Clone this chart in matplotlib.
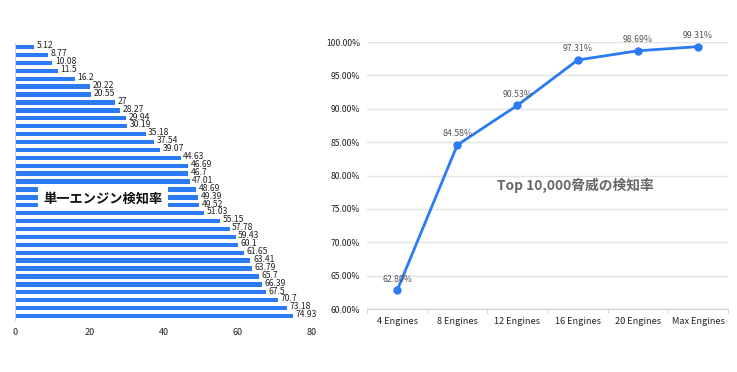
import numpy as np
import matplotlib
matplotlib.use("Agg")
import matplotlib.pyplot as plt
from matplotlib.ticker import FuncFormatter

plt.rcParams['font.family'] = ['Noto Sans CJK JP', 'DejaVu Sans']

# 左: 単一エンジン検知率 (上から順)
single_rates = [5.12, 8.77, 10.08, 11.5, 16.2, 20.22, 20.55, 27, 28.27, 29.94,
                30.19, 35.18, 37.54, 39.07, 44.63, 46.69, 46.7, 47.01, 48.69,
                49.39, 49.52, 51.03, 55.15, 57.78, 59.43, 60.1, 61.65, 63.41,
                63.79, 65.7, 66.39, 67.5, 70.7, 73.18, 74.93]
single_labels = ['5.12', '8.77', '10.08', '11.5', '16.2', '20.22', '20.55', '27',
                 '28.27', '29.94', '30.19', '35.18', '37.54', '39.07', '44.63',
                 '46.69', '46.7', '47.01', '48.69', '49.39', '49.52', '51.03',
                 '55.15', '57.78', '59.43', '60.1', '61.65', '63.41', '63.79',
                 '65.7', '66.39', '67.5', '70.7', '73.18', '74.93']
x_ticks_left = [0, 20, 40, 60, 80]

# 右: Top 10,000脅威の検知率
engines = ['4 Engines', '8 Engines', '12 Engines', '16 Engines', '20 Engines', 'Max Engines']
top_rates = [62.80, 84.58, 90.53, 97.31, 98.69, 99.31]
y_ticks_right = [60, 65, 70, 75, 80, 85, 90, 95, 100]

blue = '#2b7bf5'
grid_gray = '#e3e3e3'

fig = plt.figure(figsize=(7.37, 3.72), dpi=100)

# ---- 左のグラフ ----
ax1 = fig.add_axes([0.0204, 0.140, 0.403, 0.744])
pos = np.arange(len(single_rates))
ax1.barh(pos, single_rates, height=0.55, color=blue)
for p, v, lab in zip(pos, single_rates, single_labels):
    ax1.text(v + 0.7, p - 0.15, lab, va='center', ha='left', fontsize=6.2, color='#222222')
ax1.set_ylim(len(single_rates) - 0.5, -0.5)
ax1.set_xlim(0, 80)
ax1.set_xticks(x_ticks_left)
ax1.set_yticks([])
ax1.tick_params(axis='x', length=0, pad=6, labelsize=6.5, colors='#222222')
for s in ['top', 'right', 'bottom']:
    ax1.spines[s].set_visible(False)
ax1.spines['left'].set_color('#d0d0d0')
ax1.spines['left'].set_linewidth(0.8)
ax1.text(0.095, 0.437, '単一エンジン検知率', transform=ax1.transAxes, fontsize=9.5,
         fontweight='bold', color='#111111', va='center', ha='left',
         bbox=dict(boxstyle='square,pad=0.4', facecolor='white', edgecolor='none'))

# ---- 右のグラフ ----
ax2 = fig.add_axes([0.498, 0.169, 0.490, 0.718])
xpos = np.arange(len(engines)) + 0.5
ax2.plot(xpos, top_rates, color=blue, linewidth=2.0, marker='o', markersize=5, zorder=3)
for x, v in zip(xpos, top_rates):
    ax2.text(x, v + 1.0, f'{v:.2f}%', ha='center', va='bottom', fontsize=6.3, color='#555555')
ax2.set_xlim(0, len(engines))
ax2.set_ylim(60, 100)
ax2.set_yticks(y_ticks_right)
ax2.yaxis.set_major_formatter(FuncFormatter(lambda v, _: f'{v:.2f}%'))
ax2.set_xticks(xpos)
ax2.set_xticklabels(engines)
ax2.set_xticks(np.arange(len(engines) + 1), minor=True)
ax2.tick_params(axis='x', which='major', length=0, pad=6, labelsize=6.6, colors='#222222')
ax2.tick_params(axis='x', which='minor', length=3, color='#d0d0d0')
ax2.tick_params(axis='y', length=0, pad=5, labelsize=6.2, colors='#222222')
ax2.grid(axis='y', color=grid_gray, linewidth=1)
ax2.set_axisbelow(True)
for s in ['top', 'right', 'left']:
    ax2.spines[s].set_visible(False)
ax2.spines['bottom'].set_color('#d0d0d0')
ax2.text(0.576, 0.464, 'Top 10,000脅威の検知率', transform=ax2.transAxes, fontsize=9.9,
         fontweight='bold', color='#666666', ha='center', va='center')

fig.savefig('out.png', dpi=100)
